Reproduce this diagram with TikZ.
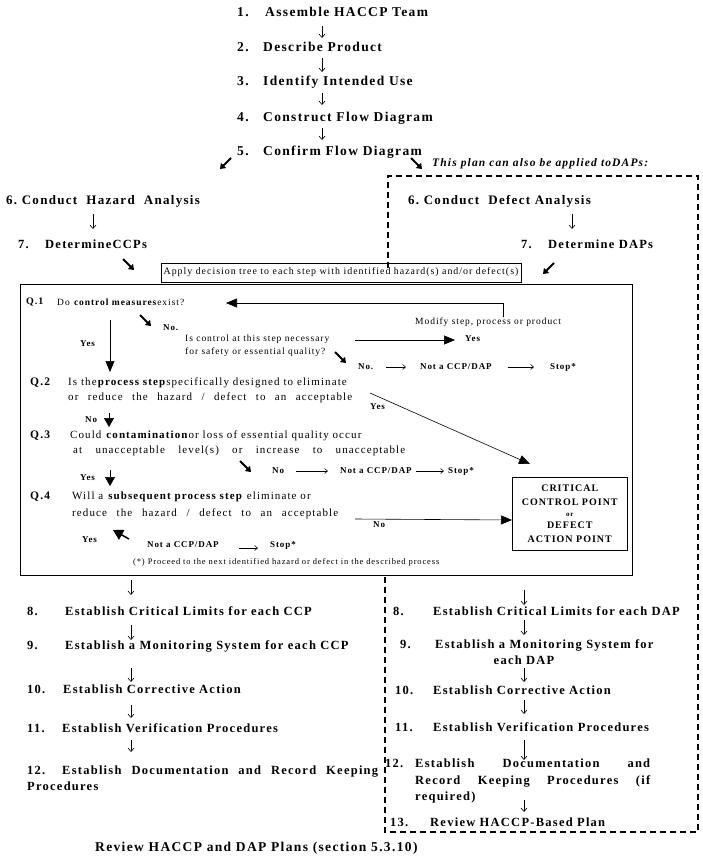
\documentclass[tikz,border=0pt]{standalone}
\usepackage{fontspec}
\setmainfont{Liberation Serif}[LetterSpace=10]
\usetikzlibrary{arrows.meta}
\newcommand\nb[2]{\makebox[#1][l]{#2}}
\newcommand\dn[4]{\coordinate (#1a) at (#2,#3);\coordinate (#1b) at (#2,#4);\draw[darr] (#1a) -- (#1b);}
\newcommand\dg[5]{\coordinate (#1a) at (#2,#3);\coordinate (#1b) at (#4,#5);\draw[dgarr] (#1a) -- (#1b);}
\begin{document}
\begin{tikzpicture}[x=1pt,y=-1pt,
  every node/.style={inner sep=0pt,anchor=west},
  st/.style={font=\bfseries\fontsize{12.5}{14}\selectfont},
  top/.style={font=\bfseries\fontsize{13.5}{15}\selectfont},
  sm/.style={font=\bfseries\fontsize{11.5}{13}\selectfont},
  qt/.style={font=\fontsize{11}{13}\selectfont},
  qs/.style={font=\fontsize{9.5}{11}\selectfont},
  lab/.style={font=\bfseries\fontsize{9}{11}\selectfont},
  tiny/.style={font=\fontsize{8.5}{10}\selectfont},
  darr/.style={-{Straight Barb[length=3.5pt,width=6pt]},line width=0.6pt},
  tarr/.style={-{Triangle[length=11pt,width=9pt]},line width=0.6pt},
  sarr/.style={-{Straight Barb[length=3pt,width=5pt]},line width=0.6pt},
  dgarr/.style={-{Triangle[length=5pt,width=7pt]},line width=1.8pt},
  ddash/.style={line width=1.5pt,dash pattern=on 6pt off 4pt}]
\useasboundingbox (0,0) rectangle (702,862);

% top steps
\node[top] (s1) at (237,12) {\nb{28pt}{1.}Assemble HACCP Team};
\node[top] (s2) at (237,47) {\nb{26pt}{2.}Describe Product};
\node[top] (s3) at (237,82) {\nb{26pt}{3.}Identify Intended Use};
\node[top] (s4) at (237,118) {\nb{26pt}{4.}Construct Flow Diagram};
\node[top] (s5) at (237,152) {\nb{26pt}{5.}Confirm Flow Diagram};
\dn{t1}{322}{26}{38}
\dn{t2}{322}{58}{72}
\dn{t3}{322}{93}{105}
\dn{t4}{322}{128}{140}
\dg{g1}{231}{158}{220}{169}
\dg{g2}{411}{158}{422}{169}
\node[font=\bfseries\itshape\fontsize{11.5}{13}\selectfont] (plan) at (432,164) {This plan can also be applied toDAPs:};

% dashed region
\draw[ddash] (388,268) -- (388,176) -- (698,176) -- (698,832) -- (385,832) -- (385,575);

% left 6,7
\node[font=\bfseries\fontsize{13}{15}\selectfont] (h6) at (6,201) {6.\ Conduct\ \ Hazard\ \ Analysis};
\dn{h1}{93}{214}{229}
\node[st] (h7) at (18,244) {\nb{27pt}{7.}DetermineCCPs};
\dg{g3}{123}{259}{134}{270}

% right 6,7
\node[font=\bfseries\fontsize{13}{15}\selectfont] (d6) at (408,201) {6.\ Conduct\ \ Defect Analysis};
\dn{d1}{572}{214}{229}
\node[st] (d7) at (521,244) {\nb{27pt}{7.}Determine DAPs};
\dg{g4}{554}{263}{543}{274}

% apply box
\node[draw,line width=0.6pt,minimum width=360pt,minimum height=19pt,anchor=center] (apply) at (341,272.5) {};
\node[font=\fontsize{9.9}{11}\selectfont,anchor=center] (applyt) at (apply.center) {Apply decision tree to each step with identified hazard(s) and/or defect(s)};

% main box
\node[draw,line width=0.8pt,minimum width=612pt,minimum height=291pt,anchor=north west] (mainbox) at (20,284) {};

% Q1
\node[font=\bfseries\fontsize{10}{12}\selectfont] (q1) at (26,302) {Q.1};
\node[qs] (q1t) at (57,302) {Do \textbf{control measures}exist?};
\node[qs] (mod) at (415,322) {Modify step, process or product};
\coordinate (q1in) at (226,303);
\draw[tarr] (mod.north -| 503,0) |- (q1in);
\dg{g5}{140}{315}{151}{326}
\node[lab] (no1) at (163,328) {No.};
\node[qs] (nec1) at (185,339) {Is control at this step necessary};
\node[qs] (nec2) at (185,352) {for safety or essential quality?};
\coordinate (ya) at (355,340);
\coordinate (yb) at (455,340);
\draw[tarr] (ya) -- (yb);
\node[lab] (yes2) at (465,339) {Yes};
\dg{g6}{335}{352}{346}{363}
\node[lab] (no2) at (358,367) {No.};
\node[lab] (ncd1) at (420,367) {Not a CCP/DAP};
\node[lab] (stop1) at (550,367) {Stop*};
\draw[sarr,shorten <=13pt,shorten >=14pt] (no2) -- (ncd1);
\draw[sarr,shorten <=16pt,shorten >=16pt] (ncd1) -- (stop1);
\node[lab] (yes1) at (80,344) {Yes};
\coordinate (v1a) at (110,320);
\coordinate (v1b) at (110,372);
\draw[tarr] (v1a) -- (v1b);

% Q2
\node[sm] (q2) at (30,383) {Q.2};
\node[qt] (q2a) at (68,383) {Is the\textbf{process step}specifically designed to eliminate};
\node[qt] (q2b) at (68,398) {\makebox[284pt][s]{or reduce the hazard / defect to an acceptable}};
\node[lab] (no3) at (85,420) {No};
\coordinate (v2a) at (109,413);
\coordinate (v2b) at (109,427);
\draw[-{Triangle[length=9pt,width=10pt]},line width=0.6pt] (v2a) -- (v2b);
\node[lab] (yes3) at (370,407) {Yes};

% CCP box
\node[draw,line width=0.6pt,minimum width=115pt,minimum height=73pt,anchor=north west] (ccp) at (512,477) {};
\node[anchor=center,align=center,font=\bfseries\fontsize{10}{14}\selectfont] (ccpt) at (ccp.center)
  {CRITICAL\\CONTROL POINT\\[-3pt]{\fontsize{7}{8}\selectfont or}\\[-2pt]DEFECT\\ACTION POINT};
\coordinate (q2y) at (370,393);
\coordinate (q2t) at (530,464);
\draw[tarr] (q2y) -- (q2t);

% Q3
\node[sm] (q3) at (30,436) {Q.3};
\node[qt] (q3a) at (70,436) {Could \textbf{contamination}or loss of essential quality occur};
\node[qt] (q3b) at (73,451) {\makebox[332pt][s]{at unacceptable level(s) or increase to unacceptable}};
\dg{g7}{240}{461}{251}{472}
\node[lab] (no4) at (272,471) {No};
\node[lab] (ncd2) at (340,471) {Not a CCP/DAP};
\node[lab] (stop2) at (448,471) {Stop*};
\draw[sarr,shorten <=12pt,shorten >=12pt] (no4) -- (ncd2);
\draw[sarr,shorten <=4pt,shorten >=4pt] (ncd2) -- (stop2);
\node[lab] (yes4) at (80,478) {Yes};
\coordinate (v3a) at (110,470);
\coordinate (v3b) at (110,486);
\draw[-{Triangle[length=9pt,width=10pt]},line width=0.6pt] (v3a) -- (v3b);

% Q4
\node[sm] (q4) at (30,497) {Q.4};
\node[qt] (q4a) at (72,497) {Will a \textbf{subsequent process step} eliminate or};
\node[qt] (q4b) at (72,514) {\makebox[266pt][s]{reduce the hazard / defect to an acceptable}};
\coordinate (n4a) at (355,519);
\draw[tarr] (n4a) -- (ccp.west |- 0,520);
\node[lab] (no5) at (373,525) {No};
\node[lab] (yes5) at (82,540) {Yes};
\coordinate (y5a) at (129,539);
\coordinate (y5b) at (113,530);
\draw[-{Triangle[length=10pt,width=11pt]},line width=1.5pt] (y5a) -- (y5b);
\node[lab] (ncd3) at (147,545) {Not a CCP/DAP};
\node[lab] (stop3) at (270,545) {Stop*};
\draw[sarr,shorten <=20pt,shorten >=12pt] (ncd3.east |- 0,548) -- (stop3.west |- 0,548);
\node[tiny] (foot) at (133,562) {(*) Proceed to the next identified hazard or defect in the described process};

% left 8-12
\dn{l0}{131}{580}{595}
\node[st] (l8) at (27,611) {\nb{38pt}{8.}Establish Critical Limits for each CCP};
\dn{l1}{131}{625}{640}
\node[st] (l9) at (27,646) {\nb{38pt}{9.}Establish a Monitoring System for each CCP};
\dn{l2}{131}{668}{682}
\node[st] (l10) at (27,689) {\nb{36pt}{10.}Establish Corrective Action};
\dn{l3}{131}{705}{718}
\node[st] (l11) at (27,728) {\nb{35pt}{11.}Establish Verification Procedures};
\dn{l4}{131}{740}{752}
\node[st] (l12) at (27,772) {\nb{35pt}{12.}\makebox[316pt][s]{Establish Documentation and Record Keeping}};
\node[st] (l12b) at (27,786) {Procedures};

% right 8-13
\dn{r0}{524}{590}{605}
\node[st] (r8) at (393,611) {\nb{40pt}{8.}Establish Critical Limits for each DAP};
\dn{r1}{524}{620}{635}
\node[st] (r9) at (400,645) {\nb{35pt}{9.}Establish a Monitoring System for};
\node[st,anchor=center] (r9b) at (524,660) {each DAP};
\dn{r2}{524}{668}{682}
\node[st] (r10) at (395,690) {\nb{38pt}{10.}Establish Corrective Action};
\dn{r3}{524}{700}{714}
\node[st] (r11) at (395,727) {\nb{38pt}{11.}Establish Verification Procedures};
\dn{r4}{524}{740}{760}
\node[st] (r12) at (385,763) {\nb{30pt}{12.}\makebox[235pt][s]{Establish Documentation and}};
\node[st] (r12b) at (415,781) {\makebox[235pt][s]{Record Keeping Procedures (if}};
\node[st] (r12c) at (415,797) {required)};
\dn{r5}{524}{800}{812}
\node[st] (r13) at (390,822) {\nb{40pt}{13.}Review HACCP-Based Plan};

\node[top] (rev) at (95,848) {Review HACCP and DAP Plans (section 5.3.10)};
\end{tikzpicture}
\end{document}
